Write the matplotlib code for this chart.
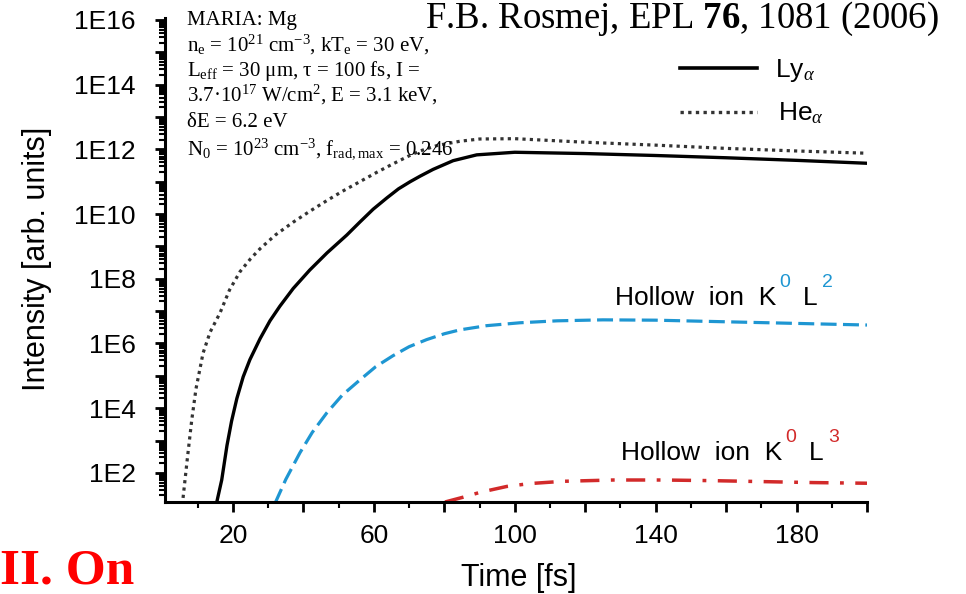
import numpy as np
import matplotlib
matplotlib.use("Agg")
import matplotlib.pyplot as plt
from matplotlib.ticker import FixedLocator, NullFormatter, FuncFormatter, LogLocator

# ---- data (time in fs, intensity as log10 values) ----
he_t = [5.6, 7.0, 8.3, 9.5, 11.5, 13.5, 16.3, 19.0, 22.0, 25.0, 27.7, 32.0, 37.1, 42.0,
        46.7, 51.0, 56.0, 61.0, 65.4, 70.0, 73.1, 78.0, 84.4, 90.0, 100.0, 120.0, 140.0,
        160.0, 180.0, 200.0]
he_log = [1.0, 2.4, 3.64, 4.6, 5.7, 6.35, 6.94, 7.65, 8.22, 8.62, 8.93, 9.35, 9.75, 10.1,
          10.42, 10.7, 11.0, 11.3, 11.55, 11.8, 11.95, 12.12, 12.25, 12.32, 12.33, 12.22,
          12.13, 12.03, 11.95, 11.88]

ly_t = [15.2, 16.8, 18.3, 19.6, 21.1, 22.9, 24.8, 27.7, 30.5, 33.3, 37.1, 41.8, 46.7,
        52.3, 56.0, 59.8, 63.7, 67.0, 70.3, 73.1, 76.8, 82.5, 89.2, 100.0, 120.0, 140.0,
        160.0, 180.0, 200.0]
ly_log = [1.0, 1.78, 2.85, 3.6, 4.3, 4.97, 5.5, 6.15, 6.7, 7.15, 7.7, 8.27, 8.80,
          9.35, 9.75, 10.15, 10.5, 10.78, 11.0, 11.17, 11.38, 11.65, 11.83, 11.91, 11.87,
          11.81, 11.74, 11.66, 11.57]

k0l2_t = [31.9, 35.0, 39.0, 42.5, 46.6, 51.0, 56.0, 60.5, 65.4, 70.0, 75.0, 80.0, 84.4,
          92.0, 101.5, 112.0, 125.0, 140.0, 160.0, 180.0, 200.0]
k0l2_log = [1.05, 1.8, 2.62, 3.25, 3.85, 4.4, 4.87, 5.28, 5.62, 5.9, 6.12, 6.3, 6.42,
            6.55, 6.64, 6.70, 6.73, 6.72, 6.67, 6.62, 6.57]

k0l3_t = [80.2, 85.4, 90.2, 97.7, 104.3, 113.8, 128.0, 142.0, 156.0, 170.5, 184.7, 200.0]
k0l3_log = [1.1, 1.25, 1.4, 1.58, 1.67, 1.74, 1.78, 1.78, 1.76, 1.73, 1.70, 1.68]

x_major = [20, 40, 60, 80, 100, 120, 140, 160, 180, 200]
x_labeled = [20, 60, 100, 140, 180]
y_labeled = [2, 4, 6, 8, 10, 12, 14, 16]

plt.rcParams['mathtext.fontset'] = 'custom'
plt.rcParams['mathtext.rm'] = 'Liberation Serif'
plt.rcParams['mathtext.it'] = 'Liberation Serif:italic'
plt.rcParams['mathtext.bf'] = 'Liberation Serif:bold'

SANS = ['Liberation Sans', 'DejaVu Sans']
SERIF = ['Liberation Serif', 'DejaVu Serif']
BLUE = '#1e96d2'
RED = '#d22a2a'

fig = plt.figure(figsize=(9.66, 5.94), dpi=100)
ax = fig.add_axes([165/966, 1-502/594, (867-165)/966, (502-18)/594])

def pw(v):
    return 10.0 ** np.asarray(v)

ax.plot(he_t, pw(he_log), color='#333333', lw=2.3, linestyle=(0, (1, 1.3)),
        dash_capstyle='butt')
ax.plot(ly_t, pw(ly_log), color='black', lw=2.4)
ax.plot(k0l2_t, pw(k0l2_log), color=BLUE, lw=2.3, linestyle=(0, (5, 2)))
ax.plot(k0l3_t, pw(k0l3_log), color=RED, lw=2.5,
        linestyle=(0, (5.5, 3.3, 1.1, 3.3)))

ax.set_yscale('log')
ax.set_xlim(0.7, 200)
ax.set_ylim(10**1.1, 10**16.06)

for s in ['top', 'right']:
    ax.spines[s].set_visible(False)
for s in ['left', 'bottom']:
    ax.spines[s].set_linewidth(2.2)

ax.xaxis.set_major_locator(FixedLocator(x_major))
ax.xaxis.set_minor_locator(FixedLocator([10, 30, 50, 70, 90, 110, 130, 150, 170, 190]))
ax.xaxis.set_major_formatter(FuncFormatter(lambda v, p: f"{int(round(v))}" if int(round(v)) in x_labeled else ""))
ax.yaxis.set_major_locator(LogLocator(base=10, numticks=30))
ax.yaxis.set_minor_locator(LogLocator(base=10, subs=np.arange(2, 10), numticks=30))
ax.yaxis.set_minor_formatter(NullFormatter())

def yfmt(v, p):
    e = int(round(np.log10(v)))
    return f"1E{e}" if e in y_labeled else ""
ax.yaxis.set_major_formatter(FuncFormatter(yfmt))

ax.tick_params(axis='both', which='major', direction='out', length=7, width=2, labelsize=19)
ax.tick_params(axis='both', which='minor', direction='out', length=4, width=1.5)
ax.tick_params(axis='x', pad=9)
ax.tick_params(axis='y', pad=14)
for lab in ax.get_xticklabels() + ax.get_yticklabels():
    lab.set_family(SANS)

ax.set_xlabel('Time [fs]', family=SANS, fontsize=22, va='center')
ax.set_ylabel('Intensity [arb. units]', family=SANS, fontsize=22, va='center')
ax.xaxis.set_label_coords(519/966, 1-578/594, transform=fig.transFigure)
ax.yaxis.set_label_coords(37/966, 1-259/594, transform=fig.transFigure)

# ---- info text block ----
info = [
    r'MARIA: Mg',
    r'n$_\mathrm{e}$ = 10$^\mathrm{21}$ cm$^\mathrm{-3}$, kT$_\mathrm{e}$ = 30 eV,',
    r'L$_\mathrm{eff}$ = 30 μm, τ = 100 fs, I =',
    r'3.7·10$^\mathrm{17}$ W/cm$^\mathrm{2}$, E = 3.1 keV,',
    r'δE = 6.2 eV',
    r'N$_\mathrm{0}$ = 10$^\mathrm{23}$ cm$^\mathrm{-3}$, f$_\mathrm{rad,max}$ = 0.246',
]
baselines = [25, 51, 76, 101, 127, 155]
for s, b in zip(info, baselines):
    fig.text(187/966, 1 - b/594, s, family=SERIF, fontsize=15, va='baseline', ha='left')

fig.text(425/966, 1 - 28/594, r'F.B. Rosmej, EPL $\mathbf{76}$, 1081 (2006)',
         family=SERIF, fontsize=26.5, va='baseline', ha='left')

# ---- legend ----
fig.add_artist(plt.Line2D([680/966, 757/966], [1-68/594, 1-68/594], color='black', lw=2.6))
fig.add_artist(plt.Line2D([680/966, 757/966], [1-112/594, 1-112/594], color='#333333',
                          lw=2.4, linestyle=(0, (1, 1.3)), dash_capstyle='butt'))
fig.text(775/966, 1-77/594, r'Ly$_{\alpha}$', family=SANS, fontsize=19, va='baseline')
fig.text(778/966, 1-120/594, r'He$_{\alpha}$', family=SANS, fontsize=19, va='baseline')

# ---- hollow ion labels ----
def hollow(x0, base, sup1, sup2, color):
    r = fig.canvas.get_renderer()
    t1 = fig.text(x0/966, 1-base/594, 'Hollow  ion  K', family=SANS, fontsize=19, va='baseline')
    bb = t1.get_window_extent(r)
    sup_y = (bb.y1 - 5) / fig.bbox.height
    a1 = fig.text((bb.x1 + 3) / fig.bbox.width, sup_y, sup1, family=SANS, fontsize=14,
                  color=color, va='bottom')
    bb2 = a1.get_window_extent(r)
    t2 = fig.text((bb2.x1 + 13) / fig.bbox.width, 1-base/594, 'L', family=SANS, fontsize=19,
                  va='baseline')
    bb3 = t2.get_window_extent(r)
    fig.text((bb3.x1 + 4) / fig.bbox.width, sup_y, sup2, family=SANS,
             fontsize=14, color=color, va='bottom')

fig.canvas.draw()
hollow(615, 305, '0', '2', BLUE)
hollow(621, 460, '0', '3', RED)

fig.text(0.0, 1 - 583/594, 'II. On', family=SERIF, fontsize=37, fontweight='bold',
         color='#ff0000', va='baseline', ha='left')

fig.savefig('out.png', dpi=100)
